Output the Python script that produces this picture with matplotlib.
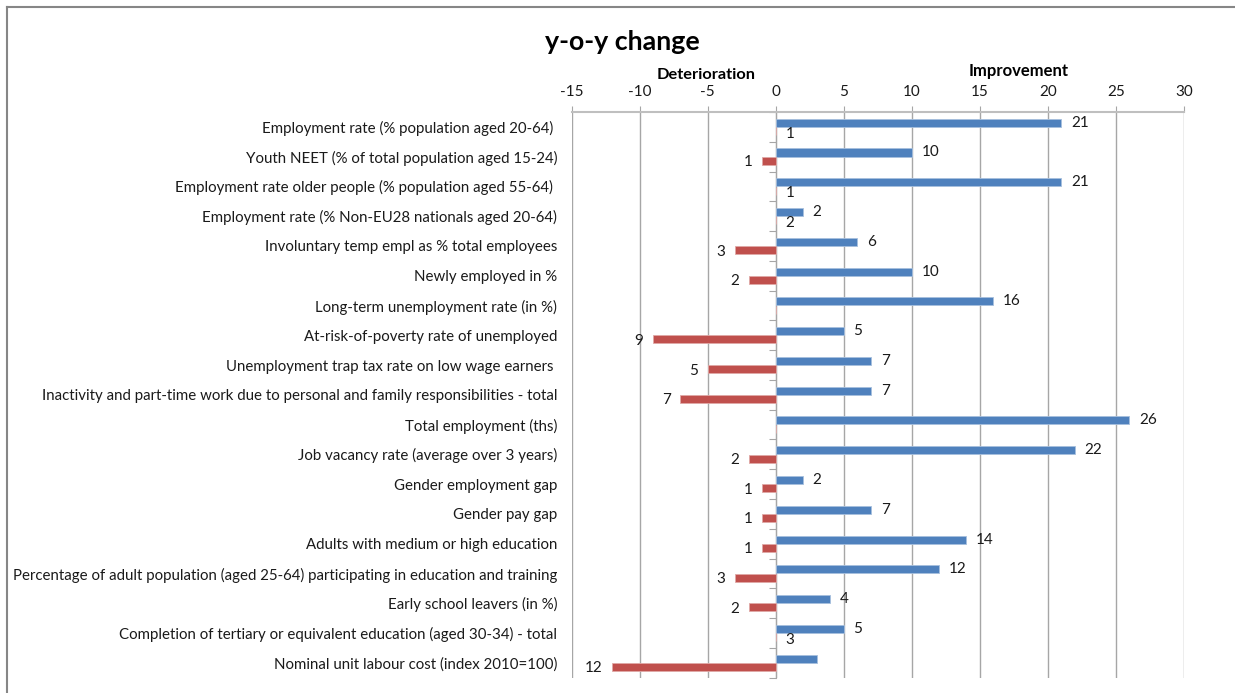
import matplotlib.pyplot as plt
import numpy as np
from matplotlib.lines import Line2D

plt.rcParams['font.family'] = ['Lato', 'DejaVu Sans']
plt.rcParams['axes.unicode_minus'] = False

# categories, top to bottom
categories = [
    'Employment rate (% population aged 20-64) ',
    'Youth NEET (% of total population aged 15-24)',
    'Employment rate older people (% population aged 55-64) ',
    'Employment rate (% Non-EU28 nationals aged 20-64)',
    'Involuntary temp empl as % total employees',
    'Newly employed in %',
    'Long-term unemployment rate (in %)',
    'At-risk-of-poverty rate of unemployed',
    'Unemployment trap tax rate on low wage earners ',
    'Inactivity and part-time work due to personal and family responsibilities - total',
    'Total employment (ths)',
    'Job vacancy rate (average over 3 years)',
    'Gender employment gap',
    'Gender pay gap',
    'Adults with medium or high education',
    'Percentage of adult population (aged 25-64) participating in education and training',
    'Early school leavers (in %)',
    'Completion of tertiary or equivalent education (aged 30-34) - total',
    'Nominal unit labour cost (index 2010=100)',
]

# improvement (blue) and deterioration (red) counts
improve = [21, 10, 21, 2, 6, 10, 16, 5, 7, 7, 26, 22, 2, 7, 14, 12, 4, 5, 3]
improve_labels = ['21', '10', '21', '2', '6', '10', '16', '5', '7', '7', '26', '22',
                  '2', '7', '14', '12', '4', '5', '']
deterior = [0, 1, 0, 0, 3, 2, 0, 9, 5, 7, 0, 2, 1, 1, 1, 3, 2, 0, 12]
deterior_labels = ['1', '1', '1', '2', '3', '2', '', '9', '5', '7', '', '2',
                   '1', '1', '1', '3', '2', '3', '12']

blue = '#4F81BD'
red = '#C0504D'
grid_c = '#A6A6A6'

fig = plt.figure(figsize=(12.35, 6.93), dpi=100)
ax = fig.add_axes([0.4629, 0.0221, 0.4956, 0.8163])

y = np.arange(len(categories))
ax.barh(y - 0.14, improve, height=0.27, color=blue, edgecolor='#A7C0DE', linewidth=0.6, zorder=3)
ax.barh(y + 0.14, [-v for v in deterior], height=0.27, color=red, edgecolor='#E0A9A7',
        linewidth=0.6, zorder=3)

for i in range(len(categories)):
    if improve_labels[i]:
        ax.annotate(improve_labels[i], (improve[i], y[i] - 0.14), xytext=(7, 0),
                    textcoords='offset points', va='center', ha='left', fontsize=11, color='#1a1a1a')
    if deterior_labels[i]:
        if deterior[i] > 0:
            ax.annotate(deterior_labels[i], (-deterior[i], y[i] + 0.14), xytext=(-7, -1),
                        textcoords='offset points', va='center', ha='right', fontsize=11, color='#1a1a1a')
        else:
            ax.annotate(deterior_labels[i], (0, y[i] + 0.14), xytext=(7, -2),
                        textcoords='offset points', va='center', ha='left', fontsize=11, color='#1a1a1a')

ax.set_xlim(-15, 30)
ax.set_ylim(len(categories) - 0.5, -0.5)
ax.set_xticks(np.arange(-15, 31, 5))
ax.xaxis.tick_top()
ax.tick_params(axis='x', length=4, color=grid_c, pad=5, labelsize=11, labelcolor='#1a1a1a')
ax.grid(axis='x', color=grid_c, linewidth=1, zorder=0)

ax.set_yticks(y)
ax.set_yticklabels(categories, fontsize=10.85, color='#1a1a1a')
ax.tick_params(axis='y', length=0, pad=10.5)

for s in ['left', 'right', 'bottom']:
    ax.spines[s].set_visible(False)
ax.spines['top'].set_color('#BFBFBF')
ax.spines['top'].set_linewidth(1.5)

# vertical axis at zero with ticks between categories
sec = ax.secondary_yaxis(1 / 3)
sec.set_yticks(np.arange(-0.5, len(categories), 1))
sec.set_yticklabels([])
sec.tick_params(length=5, color=grid_c, direction='out')
sec.spines['left'].set_color(grid_c)

fig.text(0.4413, 0.940, 'y-o-y change', fontsize=19.3, fontweight='bold', ha='left', va='center')
fig.text(0.5320, 0.892, 'Deterioration', fontsize=11.8, fontweight='bold', ha='left', va='center')
fig.text(0.7846, 0.897, 'Improvement', fontsize=12, fontweight='bold', ha='left', va='center')

# outer chart frame (left and top edges)
fig.add_artist(Line2D([0.0053, 0.0053], [0, 0.990], color='#868686', linewidth=1.5))
fig.add_artist(Line2D([0.0053, 1], [0.990, 0.990], color='#868686', linewidth=1.5))

fig.savefig('out.png', dpi=100)
